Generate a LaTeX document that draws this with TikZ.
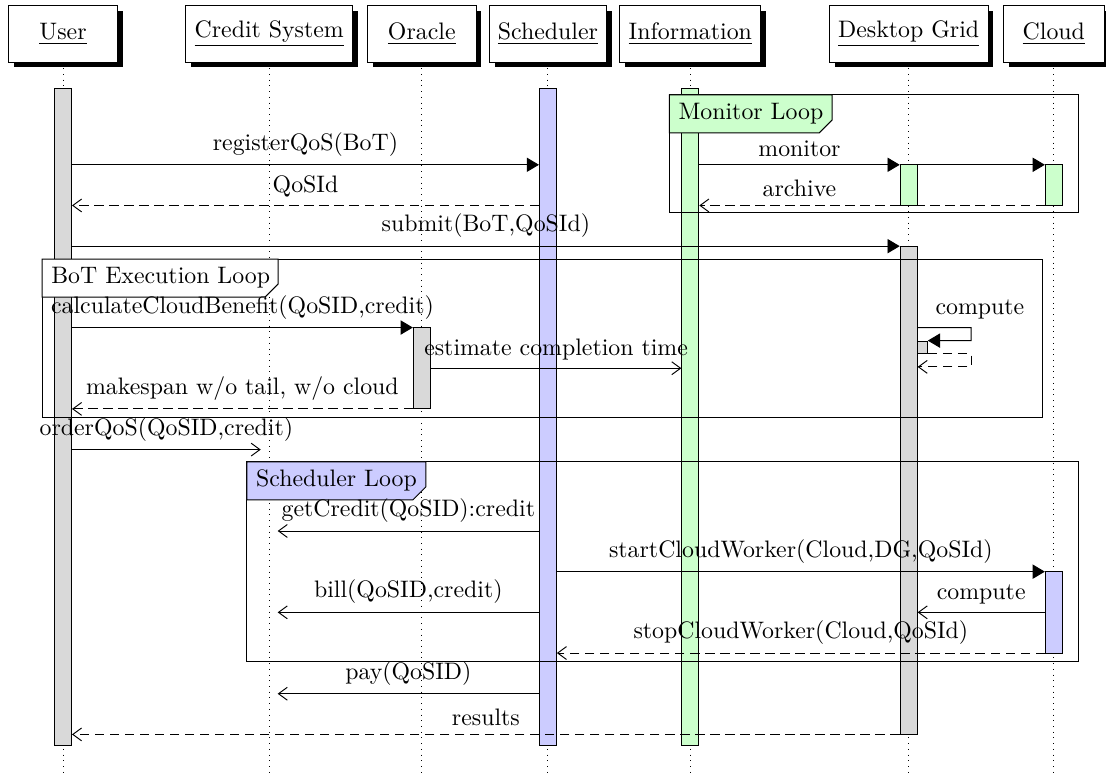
\documentclass[tikz,border=0pt]{standalone}
\usepackage{tikz}
\usetikzlibrary{arrows.meta, shadows}

\tikzset{
  actor/.style={draw, fill=white, minimum width=1.6cm, minimum height=0.83cm, inner xsep=0.13cm,
    drop shadow={shadow xshift=0.08cm, shadow yshift=-0.08cm, fill=black, opacity=1}},
  lifeline/.style={dotted},
  actbar/.style={draw, minimum width=0.25cm, inner sep=0pt},
  looplabel/.style={anchor=west, inner xsep=0.13cm},
  call/.style={-{Triangle[length=0.18cm, width=0.21cm]}},
  async/.style={-{Straight Barb[length=0.13cm, width=0.19cm]}},
  ret/.style={async, dash pattern=on 3.9pt off 2.4pt},
}

\begin{document}
\begin{tikzpicture}
    \useasboundingbox (0,0) rectangle (16.31,-11.45);

    % actors
    \node[actor] (user) at (0.93,-0.5) {\underline{User}};
    \node[actor] (credit) at (3.97,-0.5) {\underline{Credit System}};
    \node[actor] (oracle) at (6.22,-0.5) {\underline{Oracle}};
    \node[actor] (sched) at (8.08,-0.5) {\underline{Scheduler}};
    \node[actor] (info) at (10.18,-0.5) {\underline{Information}};
    \node[actor] (dg) at (13.40,-0.5) {\underline{Desktop Grid}};
    \node[actor, minimum width=1.48cm] (cloud) at (15.54,-0.5) {\underline{Cloud}};

    \coordinate (bot) at (0,-11.43);
    \foreach \a in {user,credit,oracle,sched,info,dg,cloud}
        \draw[lifeline] (\a.south) -- (\a |- bot);

    % one row per message
    \foreach \k in {0,...,14}
        \coordinate (r\k) at (0,-2.43-0.6*\k);
    % credit system has no bar, arrows stop beside its line
    \coordinate (ce) at (4.095,0);
    \coordinate (cw) at (3.845,0);

    % activation bars
    \node[actbar, fill=gray!30, minimum height=9.69cm] (ubar) at (0.93,-6.145) {};
    \node[actbar, fill=blue!20, minimum height=9.69cm] (sbar) at (8.08,-6.145) {};
    \node[actbar, fill=green!20, minimum height=9.69cm] (ibar) at (10.18,-6.145) {};
    \node[actbar, fill=green!20, minimum height=0.6cm] (dgmon) at (13.40,-2.73) {};
    \node[actbar, fill=green!20, minimum height=0.6cm] (clmon) at (15.54,-2.73) {};
    \node[actbar, fill=gray!30, minimum height=7.2cm] (dgbar) at (13.40,-7.23) {};
    \node[actbar, fill=gray!30, minimum height=1.2cm] (obar) at (6.22,-5.43) {};
    \node[actbar, fill=gray!30, minimum width=0.15cm, minimum height=0.18cm] (dgnest) at (13.60,-5.12) {};
    \node[actbar, fill=blue!20, minimum height=1.2cm] (clbar) at (15.54,-9.03) {};

    % loops
    \draw (9.87,-1.40) rectangle (15.91,-3.14);
    \filldraw[fill=green!20] (9.87,-1.40) -- ++(2.40,0) -- ++(0,-0.37) -- ++(-0.19,-0.19) -- (9.87,-1.96) -- cycle;
    \node[looplabel] (monlbl) at (9.87,-1.68) {Monitor Loop};

    \draw (0.62,-3.82) rectangle (15.38,-6.15);
    \filldraw[fill=white] (0.62,-3.82) -- ++(3.48,0) -- ++(0,-0.37) -- ++(-0.19,-0.19) -- (0.62,-4.38) -- cycle;
    \node[looplabel] (botlbl) at (0.62,-4.10) {BoT Execution Loop};

    \draw (3.64,-6.81) rectangle (15.90,-9.76);
    \filldraw[fill=blue!20] (3.64,-6.81) -- ++(2.64,0) -- ++(0,-0.37) -- ++(-0.19,-0.19) -- (3.64,-7.37) -- cycle;
    \node[looplabel] (schlbl) at (3.64,-7.09) {Scheduler Loop};

    % messages
    \draw[call] (ubar.east |- r0) -- node[above] {registerQoS(BoT)} (sbar.west |- r0);
    \draw[ret] (sbar.west |- r1) -- node[above] {QoSId} (ubar.east |- r1);
    \draw[call] (ibar.east |- r0) -- node[above] {monitor} (dgmon.west |- r0);
    \draw[call] (dgmon.east |- r0) -- (clmon.west |- r0);
    \draw[ret] (dgmon.west |- r1) -- node[above] {archive} (ibar.east |- r1);
    \draw[dash pattern=on 3.9pt off 2.4pt] (clmon.west |- r1) -- (dgmon.east |- r1);
    \draw[call] (ubar.east |- r2) -- node[above] {submit(BoT,QoSId)} (dgbar.west |- r2);

    \draw[call] (ubar.east |- r4) -- node[above] {calculateCloudBenefit(QoSID,credit)} (obar.west |- r4);
    \draw[async] (obar.east |- r5) -- node[above] {estimate completion time} (ibar.west |- r5);
    \coordinate (cturn) at (14.32,-4.83);
    \coordinate (cback) at (14.32,-5.41);
    \draw[call] (dgbar.east |- r4) -- (cturn) node[above, xshift=0.13cm] {compute} |- (dgnest.north east);
    \draw[ret] (dgnest.south east) -| (cback) -- (dgbar.east |- cback);
    \draw[ret] (obar.west |- r6) -- node[above] {makespan w/o tail, w/o cloud} (ubar.east |- r6);
    \draw[async] (ubar.east |- r7) -- node[above] {orderQoS(QoSID,credit)} (cw |- r7);

    \draw[async] (sbar.west |- r9) -- node[above] {getCredit(QoSID):credit} (ce |- r9);
    \draw[call] (sbar.east |- r10) -- node[above] {startCloudWorker(Cloud,DG,QoSId)} (clbar.west |- r10);
    \draw[async] (sbar.west |- r11) -- node[above] {bill(QoSID,credit)} (ce |- r11);
    \draw[async] (clbar.west |- r11) -- node[above] {compute} (dgbar.east |- r11);
    \draw[ret] (clbar.west |- r12) -- node[above] {stopCloudWorker(Cloud,QoSId)} (sbar.east |- r12);
    \draw[async] (sbar.west |- r13) -- node[above] {pay(QoSID)} (ce |- r13);
    \draw[ret] (dgbar.west |- r14) -- node[above] {results} (ubar.east |- r14);
\end{tikzpicture}
\end{document}
